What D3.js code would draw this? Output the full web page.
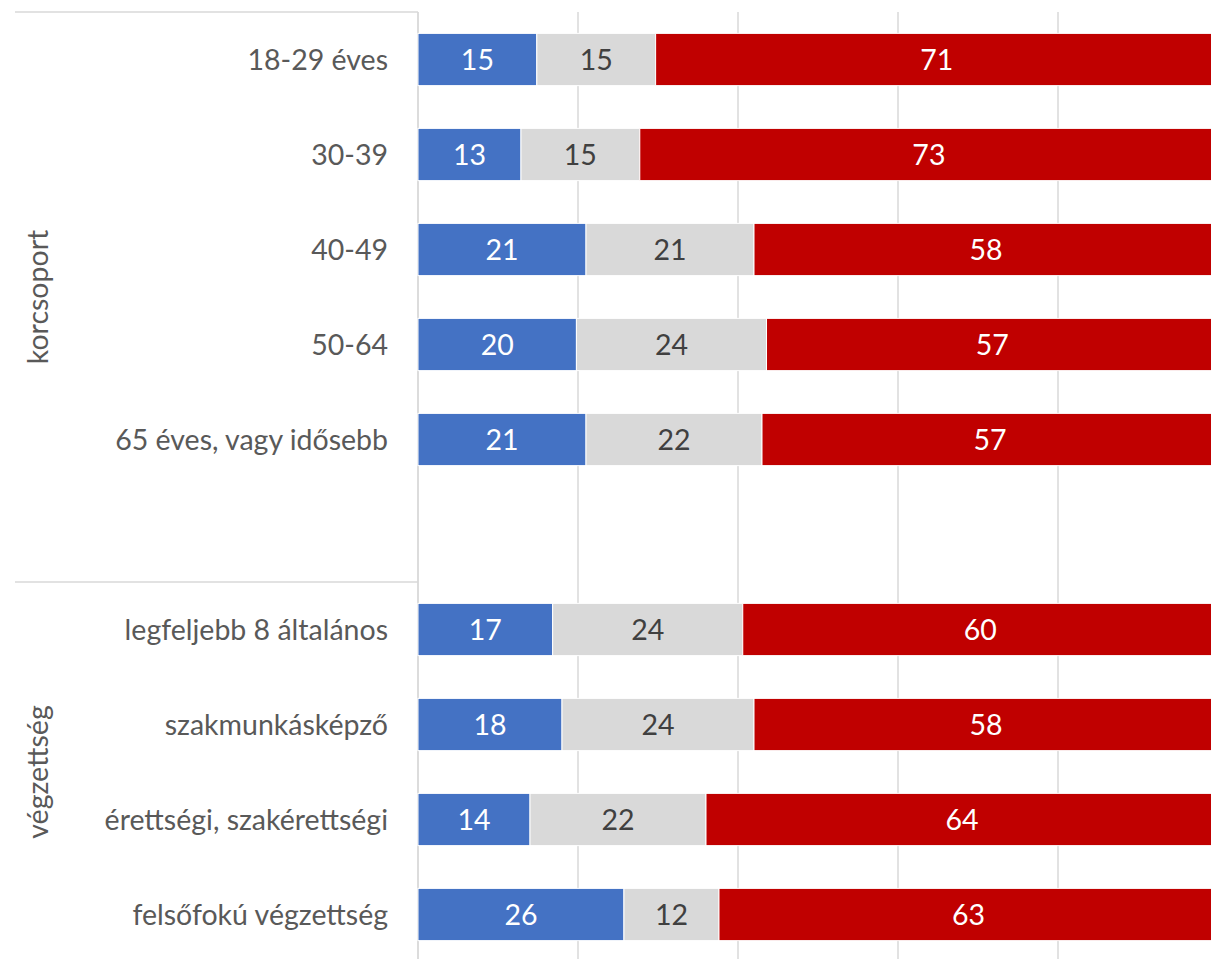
<!DOCTYPE html>
<html>
<head>
<meta charset="utf-8">
<script src="https://cdn.jsdelivr.net/npm/d3@7"></script>
<style>
  body { margin: 0; background: #fff; }
  svg { display: block; font-family: Lato, "Open Sans", sans-serif; }
</style>
</head>
<body>
<div id="chart"></div>
<script>
// Data
const categories = [
    "18-29 éves", "30-39", "40-49", "50-64", "65 éves, vagy idősebb",
    "", // empty slot between the groups
    "legfeljebb 8 általános", "szakmunkásképző", "érettségi, szakérettségi", "felsőfokú végzettség"
];
const blueValues = [15, 13, 21, 20, 21, null, 17, 18, 14, 26];
const greyValues = [15, 15, 21, 24, 22, null, 24, 24, 22, 12];
const redValues  = [71, 73, 58, 57, 57, null, 60, 58, 64, 63];
const groups = [
    { label: "korcsoport", from: 0, to: 5 },
    { label: "végzettség", from: 6, to: 9 }
];
const xTicks = [0, 20, 40, 60, 80, 100];

function draw() {
    const W = 1211, H = 959;
    const margin = { top: 12, left: 418 };
    const plotW = 800;
    const plotH = 950;
    const fontSize = "28.5px";

    const svg = d3.select("#chart").append("svg")
        .attr("width", W)
        .attr("height", H);

    const g = svg.append("g")
        .attr("transform", `translate(${margin.left},${margin.top})`);

    const x = d3.scaleLinear().domain([0, 100]).range([0, plotW]);
    const y = d3.scaleBand()
        .domain(d3.range(categories.length))
        .range([0, plotH])
        .paddingInner(0.45)
        .paddingOuter(0.225);

    // Gridlines
    g.selectAll(".grid")
        .data(xTicks)
        .join("line")
        .attr("x1", d => x(d))
        .attr("x2", d => x(d))
        .attr("y1", 0)
        .attr("y2", plotH)
        .attr("stroke", d => d === 0 ? "#d0d0d0" : "#d9d9d9")
        .attr("stroke-width", 1.5);

    // Stacked rows, normalised to 100%
    const series = [
        { values: blueValues, color: "#4472C4", text: "#ffffff" },
        { values: greyValues, color: "#D9D9D9", text: "#404040" },
        { values: redValues,  color: "#C00000", text: "#ffffff" }
    ];

    categories.forEach((cat, i) => {
        if (blueValues[i] == null) return;
        const total = blueValues[i] + greyValues[i] + redValues[i];
        let acc = 0;
        series.forEach(s => {
            const v = s.values[i];
            const x0 = x(acc / total * 100);
            const x1 = x((acc + v) / total * 100);
            acc += v;
            g.append("rect")
                .attr("x", x0)
                .attr("y", y(i))
                .attr("width", x1 - x0)
                .attr("height", y.bandwidth())
                .attr("fill", s.color)
                .attr("stroke", "#fff")
                .attr("stroke-width", 1);
            g.append("text")
                .attr("x", (x0 + x1) / 2)
                .attr("y", y(i) + y.bandwidth() / 2)
                .attr("dy", "0.36em")
                .attr("text-anchor", "middle")
                .attr("fill", s.text)
                .style("font-size", fontSize)
                .text(v);
        });
    });

    // Category labels
    g.selectAll(".cat")
        .data(categories)
        .join("text")
        .attr("x", -30)
        .attr("y", (d, i) => y(i) + y.bandwidth() / 2)
        .attr("dy", "0.36em")
        .attr("text-anchor", "end")
        .attr("fill", "#595959")
        .style("font-size", fontSize)
        .text(d => d);

    // Group separators and labels
    const step = y.step();
    const top = i => y(i) - y.paddingInner() * step / 2;
    const sep = [top(groups[0].from), top(groups[1].from)];
    g.selectAll(".sep")
        .data(sep)
        .join("line")
        .attr("x1", 15 - margin.left)
        .attr("x2", 0)
        .attr("y1", d => d)
        .attr("y2", d => d)
        .attr("stroke", "#d9d9d9")
        .attr("stroke-width", 1.5);

    groups.forEach(gr => {
        const y0 = top(gr.from);
        const y1 = top(gr.to) + step;
        g.append("text")
            .attr("transform", `translate(${38 - margin.left},${(y0 + y1) / 2}) rotate(-90)`)
            .attr("dy", "0.36em")
            .attr("text-anchor", "middle")
            .attr("fill", "#595959")
            .style("font-size", fontSize)
            .text(gr.label);
    });
}

if (document.readyState === 'loading') {
    document.addEventListener('DOMContentLoaded', draw);
} else {
    draw();
}
</script>
</body>
</html>
